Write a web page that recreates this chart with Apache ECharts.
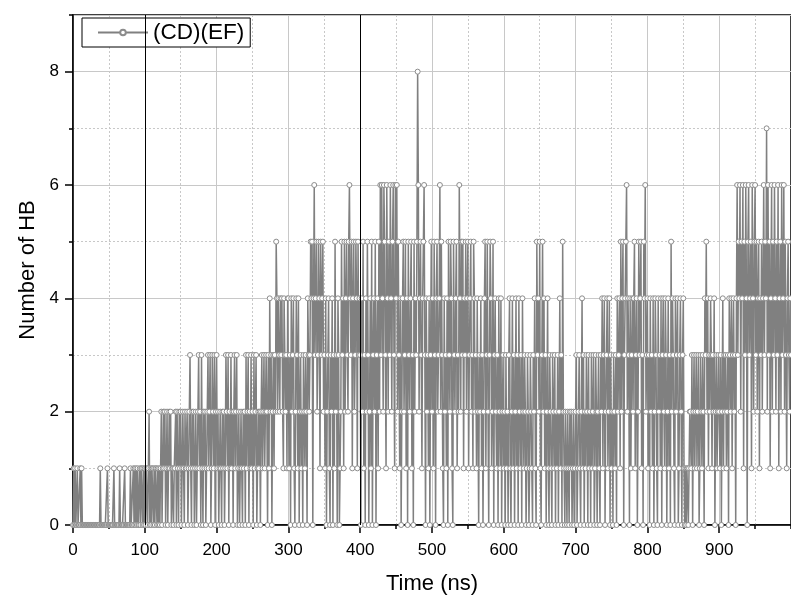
<!DOCTYPE html>
<html><head><meta charset="utf-8">
<script src="https://cdn.jsdelivr.net/npm/echarts@6/dist/echarts.min.js"></script>
<style>html,body{margin:0;padding:0;background:#fff}#c{width:791px;height:600px}</style>
</head><body><div id="c"></div>
<script>
const seriesName = '(CD)(EF)';
const xTitle = 'Time (ns)';
const yTitle = 'Number of HB';
const timeStepNs = 1;
const markTimes = [100, 400];

// Number of HB per ns (blocks of 100 ns)
const hb000 = [0,1,0,1,0,0,1,0,0,0, 1,0,1,0,0,0,0,0,0,0, 0,0,0,0,0,0,0,0,0,0, 0,0,0,0,0,0,0,0,1,0,
  0,0,0,0,0,0,0,0,1,0, 0,0,0,0,0,0,0,1,0,0, 0,0,0,0,0,1,0,0,0,0, 0,0,1,0,0,0,0,0,0,0,
  1,0,0,0,1,0,1,0,1,0, 1,0,0,1,0,1,1,0,1,0];
const hb100 = [1,0,1,1,0,1,2,0,1,0, 1,1,0,1,0,1,1,0,1,0, 1,0,1,2,0,1,2,1,2,0, 1,2,0,1,2,1,2,0,1,1,
  0,1,1,2,0,2,1,0,2,1, 2,0,1,2,1,0,2,1,1,2, 0,1,2,3,1,0,2,1,2,0, 1,2,0,1,2,3,1,2,0,3,
  1,0,2,1,2,0,1,2,3,1, 2,3,0,1,3,2,1,3,0,2];
const hb200 = [3,1,2,0,1,2,1,0,2,1, 2,0,1,3,2,1,3,0,2,1, 3,1,2,0,2,3,1,2,3,0, 1,2,0,1,2,1,0,2,1,2,
  0,3,1,2,3,0,2,1,3,1, 2,0,3,1,2,3,0,1,2,1, 2,0,2,3,1,2,3,1,2,3, 2,0,3,1,4,2,3,0,2,3,
  1,3,2,5,4,2,4,3,2,4, 3,4,2,1,4,3,2,3,1,4];
const hb300 = [4,1,3,0,4,2,3,4,1,0, 2,4,3,1,4,0,2,3,1,2, 0,3,2,1,3,2,0,4,3,2, 3,5,4,5,0,4,6,3,4,5,
  2,3,5,4,1,5,3,4,5,2, 3,1,4,0,2,3,4,1,0,3, 2,4,0,3,1,5,2,3,0,4, 3,0,1,2,5,3,4,1,5,2,
  4,5,3,2,5,6,4,3,5,1, 4,5,2,3,5,4,1,5,3,4];
const hb400 = [3,0,4,2,5,1,3,0,4,2, 5,3,0,2,4,1,5,0,3,4, 2,5,0,3,4,1,5,2,6,3, 6,4,2,6,5,3,1,6,4,2,
  5,3,6,4,2,5,6,3,1,6, 4,6,2,5,3,1,4,0,2,4, 5,2,3,5,1,4,0,5,3,2, 4,5,1,3,0,5,2,4,3,5,
  8,6,2,4,5,3,1,4,5,6, 3,0,4,2,3,1,4,0,3,5];
const hb500 = [2,4,1,5,3,0,4,5,2,3, 4,6,2,5,3,1,0,4,2,3, 1,4,0,5,3,2,5,4,1,0, 5,3,2,4,5,1,3,2,6,4,
  2,5,3,5,1,4,3,5,2,4, 5,1,3,4,5,2,3,1,5,4, 2,3,1,4,2,0,3,2,4,1, 3,0,2,4,5,1,3,5,2,0,
  3,5,4,1,2,5,0,3,4,2, 1,3,0,4,2,1,4,0,2,3];
const hb600 = [1,2,0,3,1,2,0,3,4,1, 0,2,4,1,3,0,2,4,1,3, 0,4,2,1,3,0,4,2,1,3, 2,0,1,3,2,0,1,3,2,1,
  0,3,2,4,1,0,5,3,4,2, 5,1,0,3,5,2,4,1,3,0, 2,4,1,0,3,2,1,0,3,2, 1,3,0,2,1,3,0,2,4,1,
  3,0,5,2,1,0,2,1,0,2, 1,0,2,1,2,0,1,2,0,1];
const hb700 = [2,3,0,1,2,3,1,0,2,4, 1,3,0,2,1,3,2,0,3,1, 2,0,3,1,2,3,0,1,3,2, 0,2,3,1,0,3,2,4,1,3,
  4,0,2,3,4,1,2,4,0,3, 1,2,0,3,2,1,3,0,4,2, 3,4,1,5,2,4,5,0,3,4, 5,6,2,4,3,0,4,1,3,4,
  2,4,5,1,3,4,0,2,5,3, 4,5,1,3,0,5,4,6,2,3];
const hb800 = [4,1,3,0,4,2,3,1,4,0, 2,4,3,1,0,4,2,3,1,4, 0,3,4,2,1,4,3,0,2,4, 1,3,0,5,2,4,3,1,0,4,
  2,3,4,0,1,3,4,2,0,3, 4,1,0,1,0,1,1,0,1,2, 2,1,3,0,2,3,1,2,3,1, 2,3,0,1,3,2,1,3,2,0,
  4,3,5,2,4,1,3,2,4,3, 1,3,2,4,0,2,3,1,2,3];
const hb900 = [2,1,3,0,2,4,1,3,2,3, 1,2,3,0,4,3,2,4,1,3, 4,2,3,0,4,6,3,5,4,6, 2,5,4,6,1,5,3,6,4,0,
  5,6,3,4,5,1,6,4,2,5, 6,3,5,2,4,5,1,4,3,5, 2,4,6,3,5,4,7,2,6,3, 5,1,4,6,2,5,3,6,4,2,
  5,3,6,1,4,5,2,6,3,4, 6,2,5,3,1,4,5,3,2,4];
const hb1000 = [3];

const hbValues = [].concat(hb000, hb100, hb200, hb300, hb400, hb500, hb600, hb700, hb800, hb900, hb1000);
const points = hbValues.map((v, i) => [i * timeStepNs, v]);

const FONT = "'Liberation Sans', Arial, sans-serif";
const chart = echarts.init(document.getElementById('c'), null, {renderer: 'canvas'});
const gridGray = '#c8c8c8';
chart.setOption({
  animation: false,
  backgroundColor: '#fff',
  grid: {left: 73, top: 15, right: -3, bottom: 74, show: true, borderColor: '#000', borderWidth: 1.5},
  legend: {
    left: 82, top: 18, z: 2, padding: [3, 6, 3, 15], itemWidth: 50, itemHeight: 7,
    borderColor: '#000', borderWidth: 1, borderRadius: 0, backgroundColor: '#fff',
    textStyle: {fontSize: 22.5, color: '#000', fontFamily: FONT}, data: [seriesName]
  },
  xAxis: [
    {type: 'value', min: 0, max: 1000, interval: 100, position: 'bottom',
     name: xTitle, nameLocation: 'middle', nameGap: 48,
     nameTextStyle: {fontSize: 22, color: '#000', fontFamily: FONT},
     axisLine: {show: true, onZero: false, lineStyle: {color: '#000', width: 1.5}},
     axisTick: {show: true, length: 8, lineStyle: {color: '#000', width: 1.5}},
     axisLabel: {fontSize: 17, color: '#000', margin: 17, fontFamily: FONT, showMaxLabel: false},
     splitLine: {show: true, lineStyle: {color: gridGray, width: 1}}},
    {type: 'value', min: 0, max: 1000, interval: 50, position: 'bottom',
     axisLine: {show: false}, axisLabel: {show: false},
     axisTick: {show: true, length: 4, lineStyle: {color: '#000', width: 1.5}},
     splitLine: {show: true, lineStyle: {color: gridGray, width: 1, type: [2, 2]}}}
  ],
  yAxis: [
    {type: 'value', min: 0, max: 9, interval: 2, position: 'left',
     name: yTitle, nameLocation: 'middle', nameGap: 27, nameRotate: 90,
     nameTextStyle: {fontSize: 22, color: '#000', fontFamily: FONT},
     axisLine: {show: true, onZero: false, lineStyle: {color: '#000', width: 1.5}},
     axisTick: {show: true, length: 8, lineStyle: {color: '#000', width: 1.5}},
     axisLabel: {fontSize: 17, color: '#000', margin: 14, fontFamily: FONT, showMaxLabel: false},
     splitLine: {show: true, lineStyle: {color: gridGray, width: 1}}},
    {type: 'value', min: 0, max: 9, interval: 1, position: 'left',
     axisLine: {show: false}, axisLabel: {show: false},
     axisTick: {show: true, length: 4, lineStyle: {color: '#000', width: 1.5}},
     splitLine: {show: true, lineStyle: {color: gridGray, width: 1, type: [2, 2]}}}
  ],
  series: [{
    type: 'line', name: seriesName, data: points, xAxisIndex: 0, yAxisIndex: 0, z: 3,
    symbol: 'circle', symbolSize: 5, showSymbol: true, showAllSymbol: true,
    lineStyle: {color: '#808080', width: 1.5},
    itemStyle: {color: '#ffffff', borderColor: '#8c8c8c', borderWidth: 1},
    emphasis: {disabled: true},
    markLine: {
      silent: true, symbol: ['none', 'none'], label: {show: false},
      lineStyle: {color: '#000', width: 1, type: 'solid'},
      data: markTimes.map(t => ({xAxis: t}))
    }
  }]
});
</script></body></html>
